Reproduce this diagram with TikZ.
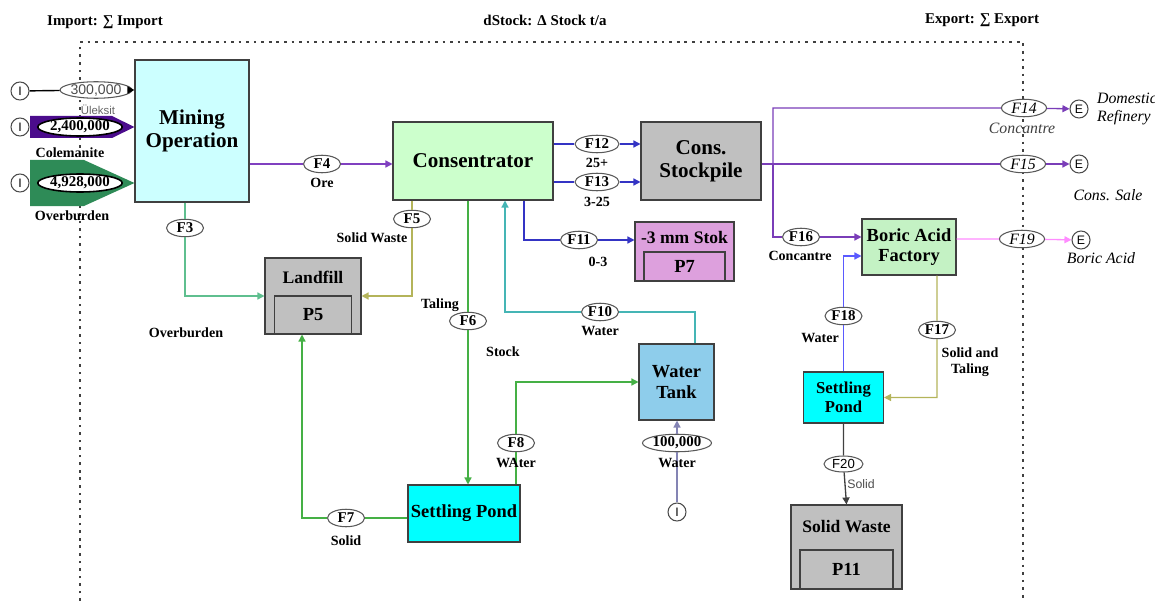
\documentclass[tikz,border=0pt]{standalone}
\usepackage{fontspec}
\setmainfont{Liberation Serif}
\setsansfont{Liberation Sans}
\usetikzlibrary{arrows.meta,positioning,shapes.geometric,calc}

\definecolor{minecyan}{HTML}{CCFFFF}
\definecolor{consgreen}{HTML}{CCFFCC}
\definecolor{boricgreen}{HTML}{C4F2C4}
\definecolor{stockgray}{HTML}{C0C0C0}
\definecolor{stokviolet}{HTML}{DDA0DD}
\definecolor{pondcyan}{HTML}{00FFFF}
\definecolor{tankblue}{HTML}{8ECDEB}
\definecolor{orepurple}{HTML}{8040C0}
\definecolor{expurple}{HTML}{7A3DB8}
\definecolor{fatpurple}{HTML}{4B0C8C}
\definecolor{fatgreen}{HTML}{2E8B57}
\definecolor{sizeblue}{HTML}{3434C4}
\definecolor{overgreen}{HTML}{5FBF8F}
\definecolor{wasteolive}{HTML}{B4B45A}
\definecolor{talgreen}{HTML}{45B045}
\definecolor{waterteal}{HTML}{45B5B5}
\definecolor{boricblue}{HTML}{5A5AFF}
\definecolor{boricpink}{HTML}{FF8CFF}
\definecolor{inputgray}{HTML}{8484B4}

\begin{document}
\begin{tikzpicture}[
	x = 0.02cm, y = -0.02cm, % one unit = one pixel of the sketch
	> = {Triangle[length=4pt, width=4pt]},
	box/.style={draw=black!75, semithick, align=center, inner sep=1pt, font=\bfseries\fontsize{10.5}{11.5}\selectfont},
	flow/.style={ellipse, draw=black!65, fill=white, semithick, inner sep=0pt, minimum width=0.74cm, minimum height=0.35cm, font=\bfseries\fontsize{8.5}{9}\selectfont},
	lab/.style={align=center, inner sep=1pt, font=\bfseries\fontsize{8}{9}\selectfont},
	ilab/.style={align=left, inner sep=1pt, font=\itshape\fontsize{9}{10}\selectfont},
	io/.style={circle, draw=black!70, fill=white, semithick, minimum size=0.36cm, inner sep=0pt, font=\sffamily\fontsize{7}{8}\selectfont},
	fl/.style={line width=0.75pt, ->},
	]

	\useasboundingbox (0,0) rectangle (1155,601);

	% System boundary
	\draw[black!75, line width=0.8pt, dash pattern=on 1.5pt off 2.8pt] (80,601) -- (80,42) -- (1023,42) -- (1023,601);
	\node[lab, font=\bfseries\fontsize{8.5}{9}\selectfont] (hImp) at (105,22) {Import: ∑ Import};
	\node[lab, font=\bfseries\fontsize{8.5}{9}\selectfont] (hStk) at (545,20) {dStock: Δ Stock t/a};
	\node[lab, font=\bfseries\fontsize{8.5}{9}\selectfont] (hExp) at (982,20) {Export: ∑ Export};

	% Processes and stocks
	\node[box, fill=minecyan, minimum width=2.28cm, minimum height=2.84cm, font=\bfseries\fontsize{12}{13}\selectfont] (mine) at (192,131) {Mining\\Operation};
	\node[box, fill=consgreen, minimum width=3.2cm, minimum height=1.56cm, font=\bfseries\fontsize{12}{13}\selectfont] (cons) at (473,161) {Consentrator};
	\node[box, fill=stockgray, minimum width=2.4cm, minimum height=1.56cm, font=\bfseries\fontsize{12}{13}\selectfont] (stock) at (701,161) {Cons.\\Stockpile};
	\node[box, fill=stokviolet, minimum width=1.98cm, minimum height=1.18cm] (p7) at (684.5,251.5) {};
	\node[box, fill=stokviolet, minimum width=1.62cm, minimum height=0.58cm, anchor=south] (p7in) at (p7.south) {P7};
	\node[lab, font=\bfseries\fontsize{10}{11}\selectfont] (p7t) at (684.5,237) {-3 mm Stok};
	\node[box, fill=stockgray, minimum width=1.92cm, minimum height=1.52cm] (land) at (313,296) {};
	\node[box, fill=stockgray, minimum width=1.54cm, minimum height=0.76cm, anchor=south] (landin) at (land.south) {P5};
	\node[lab, font=\bfseries\fontsize{10}{11}\selectfont] (landt) at (313,277) {Landfill};
	\node[box, fill=pondcyan, minimum width=2.24cm, minimum height=1.14cm] (pond) at (464,513.5) {Settling Pond};
	\node[box, fill=tankblue, minimum width=1.5cm, minimum height=1.52cm] (tank) at (676.5,382) {Water\\Tank};
	\node[box, fill=boricgreen, minimum width=1.88cm, minimum height=1.12cm] (boric) at (909,247) {Boric Acid\\Factory};
	\node[box, fill=pondcyan, minimum width=1.6cm, minimum height=1.02cm, font=\bfseries\fontsize{9.5}{10.5}\selectfont] (pond2) at (843.5,397.5) {Settling\\Pond};
	\node[box, fill=stockgray, minimum width=2.22cm, minimum height=1.68cm] (sw) at (846.5,547) {};
	\node[box, fill=stockgray, minimum width=1.86cm, minimum height=0.78cm, anchor=south] (swin) at (sw.south) {P11};
	\node[lab, font=\bfseries\fontsize{10}{11}\selectfont] (swt) at (846.5,527) {Solid Waste};

	% Imports
	\fill[fatpurple] (30,116) -- (112,116) -- (mine.west |- 0,127) -- (112,138) -- (30,138) -- cycle;
	\fill[fatgreen] (30,160) -- (84,160) -- (mine.west |- 0,183) -- (84,206) -- (30,206) -- cycle;
	\node[io] (in1) at (20,91) {I};
	\node[io] (in2) at (20,127) {I};
	\node[io] (in3) at (20,183) {I};
	\node[flow, minimum width=1.24cm, minimum height=0.33cm, font=\sffamily\fontsize{8}{9}\selectfont, text=black!70] (v1) at (96,90) {300,000};
	\node[flow, minimum width=1.56cm, minimum height=0.36cm, draw=black, line width=0.9pt] (v2) at (80,127) {2,400,000};
	\node[flow, minimum width=1.56cm, minimum height=0.36cm, draw=black, line width=0.9pt] (v3) at (80,183) {4,928,000};
	\draw[thick, ->] (in1) -- (v1) -- (mine.west |- v1);
	\node[lab, font=\sffamily\fontsize{6.5}{7}\selectfont, text=black!60] (l1) at (98,110) {Üleksit};
	\node[lab] (l2) at (70,153) {Colemanite};
	\node[lab] (l3) at (72,216) {Overburden};

	% Flow labels (ellipses)
	\node[flow] (f3) at (185,228) {F3};
	\node[flow] (f4) at (322,164) {F4};
	\node[flow] (f5) at (412,219) {F5};
	\node[flow] (f6) at (468,321) {F6};
	\node[flow] (f7) at (346,518) {F7};
	\node[flow] (f8) at (516,443) {F8};
	\node[flow] (f10) at (600,312) {F10};
	\node[flow] (f11) at (579,240) {F11};
	\node[flow, minimum width=0.88cm] (f12) at (597,144) {F12};
	\node[flow, minimum width=0.88cm] (f13) at (597,182) {F13};
	\node[flow, minimum width=0.9cm, font=\itshape\fontsize{9}{10}\selectfont] (f14) at (1024,108) {F14};
	\node[flow, minimum width=0.9cm, font=\itshape\fontsize{9}{10}\selectfont] (f15) at (1023,164) {F15};
	\node[flow] (f16) at (801,237) {F16};
	\node[flow] (f17) at (937,330) {F17};
	\node[flow] (f18) at (843.5,316) {F18};
	\node[flow, minimum width=0.9cm, font=\itshape\fontsize{9}{10}\selectfont] (f19) at (1022,239) {F19};
	\node[flow, minimum width=0.78cm, minimum height=0.32cm, font=\sffamily\fontsize{7.5}{8}\selectfont] (f20) at (843.5,464) {F20};
	\node[flow, minimum width=1.38cm] (w100) at (677,443) {100,000};
	\node[io] (in4) at (677,512) {I};
	\node[io] (e1) at (1079,109) {E};
	\node[io] (e2) at (1079,164) {E};
	\node[io] (e3) at (1081,240) {E};
	\coordinate (split) at (773,164);

	% Connectors
	\draw[fl, orepurple] (mine.east |- f4) -- (f4) -- (cons.west |- f4);
	\draw[fl, overgreen] (mine.south -| f3) -- (f3) |- (land.west);
	\draw[fl, wasteolive] (cons.south -| f5) -- (f5) |- (land.east);
	\draw[fl, talgreen] (cons.south -| f6) -- (f6) -- (pond.north -| f6);
	\draw[fl, talgreen] (pond.west |- f7) -- (f7) -| ([xshift=-0.22cm]land.south);
	\draw[fl, talgreen] (pond.north -| f8) -- (f8) |- (tank.west);
	\draw[fl, waterteal] ([xshift=0.37cm]tank.north) |- (f10) -| ([xshift=0.64cm]cons.south);
	\draw[fl, sizeblue] ([xshift=1.02cm]cons.south) |- (f11) -- (p7.west |- f11);
	\draw[fl, sizeblue] (cons.east |- f12) -- (f12) -- (stock.west |- f12);
	\draw[fl, sizeblue] (cons.east |- f13) -- (f13) -- (stock.west |- f13);
	\draw[fl, inputgray] (in4) -- (w100) -- (tank.south -| in4);
	\draw[fl, expurple] (split) |- (f14) -- (e1);
	\draw[fl, expurple] (stock.east |- split) -- (f15) -- (e2);
	\draw[fl, expurple] (split) |- (f16) -- (boric.west |- f16);
	\draw[fl, boricpink] (boric.east |- f19) -- (f19) -- (e3);
	\draw[fl, wasteolive] ([xshift=0.56cm]boric.south) -- (f17) |- (pond2.east);
	\draw[fl, boricblue] (pond2.north) -- (f18) |- ([yshift=-0.18cm]boric.west);
	\draw[fl, black!75] (pond2.south) -- (f20) -- (sw.north);

	% Flow texts
	\node[lab] (tOre) at (322,183) {Ore};
	\node[lab] (t25) at (597,163) {25+};
	\node[lab] (t325) at (597,202) {3-25};
	\node[lab] (t03) at (598,262) {0-3};
	\node[lab] (tSW) at (372,238) {Solid Waste};
	\node[lab] (tOb) at (186,333) {Overburden};
	\node[lab] (tTal) at (440,305) {Taling};
	\node[lab] (tStk) at (503,352) {Stock};
	\node[lab] (tW10) at (600,331) {Water};
	\node[lab] (tW8) at (516,463) {WAter};
	\node[lab] (tW0) at (677,463) {Water};
	\node[lab] (tSol) at (346,541) {Solid};
	\node[lab] (tCon) at (800,256) {Concantre};
	\node[lab] (tW18) at (820,338) {Water};
	\node[lab] (tST) at (970,362) {Solid and\\Taling};
	\node[lab, font=\sffamily\fontsize{7}{8}\selectfont, text=black!70] (tSol2) at (861,484) {Solid};
	\node[ilab, text=black!75] (tConI) at (1022,128) {Concantre};
	\node[ilab, anchor=west] (tDom) at (1095,109) {Domestic\\Refinery};
	\node[ilab] (tSale) at (1108,195) {Cons. Sale};
	\node[ilab] (tBor) at (1101,258) {Boric Acid};

\end{tikzpicture}
\end{document}
